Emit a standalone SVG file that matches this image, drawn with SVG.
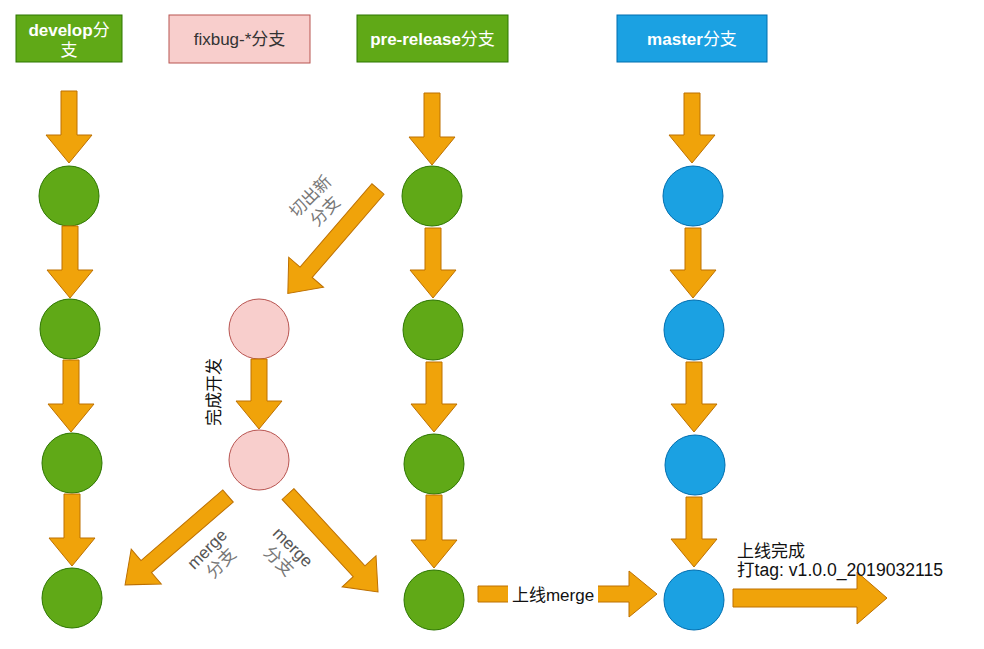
<svg xmlns="http://www.w3.org/2000/svg" width="984" height="649" viewBox="0 0 984 649">
<style>
text{font-family:"Liberation Sans","Noto Sans CJK SC",sans-serif;font-size:17px}
.hd{font-weight:bold;fill:#fff;text-anchor:middle}
.cj{font-weight:normal}
.green{fill:#60a917;stroke:#2d7600;stroke-width:1}
.pink{fill:#f8cecc;stroke:#b85450;stroke-width:1}
.blue{fill:#1ba1e2;stroke:#006eaf;stroke-width:1}
.arr{fill:#f0a30a;stroke:#bd7000;stroke-width:1;stroke-linejoin:miter}
.gl{fill:#777;text-anchor:middle}
.gm{fill:#555;text-anchor:middle}
.lbl{fill:#111}
</style>
<rect width="984" height="649" fill="#fff"/>
<g id="develop-header"><rect class="green" x="16" y="15" width="106" height="47"/><text class="hd" x="69" y="36">develop<tspan class="cj">分</tspan></text><text class="hd" x="69" y="56"><tspan class="cj">支</tspan></text></g>
<g id="fixbug-header"><rect class="pink" x="169" y="15" width="141" height="48"/><text x="239.5" y="45" fill="#333" text-anchor="middle">fixbug-*分支</text></g>
<g id="prerelease-header"><rect class="green" x="357" y="15" width="151" height="47"/><text class="hd" x="432.5" y="45">pre-release<tspan class="cj">分支</tspan></text></g>
<g id="master-header"><rect class="blue" x="617" y="15" width="150" height="47"/><text class="hd" x="692" y="45">master<tspan class="cj">分支</tspan></text></g>
<g id="develop-commits">
<circle class="green" cx="69" cy="196" r="30"/>
<circle class="green" cx="70" cy="329" r="30"/>
<circle class="green" cx="72" cy="463" r="30"/>
<circle class="green" cx="72" cy="598" r="30"/>
</g>
<g id="fixbug-commits">
<circle class="pink" cx="259" cy="329" r="30"/>
<circle class="pink" cx="259" cy="460" r="30"/>
</g>
<g id="prerelease-commits">
<circle class="green" cx="432" cy="196" r="30"/>
<circle class="green" cx="433" cy="330" r="30"/>
<circle class="green" cx="434" cy="464" r="30"/>
<circle class="green" cx="434" cy="600" r="30"/>
</g>
<g id="master-commits">
<circle class="blue" cx="693" cy="196" r="30"/>
<circle class="blue" cx="694" cy="330" r="30"/>
<circle class="blue" cx="695" cy="465" r="30"/>
<circle class="blue" cx="694" cy="600" r="30"/>
</g>
<g id="connectors">
<path class="arr" transform="translate(69,91) rotate(90)" d="M0,-8H44V-23L72,0L44,23V8H0Z"/>
<path class="arr" transform="translate(70,226) rotate(90)" d="M0,-8H44V-23L72,0L44,23V8H0Z"/>
<path class="arr" transform="translate(71,360) rotate(90)" d="M0,-8H44V-23L72,0L44,23V8H0Z"/>
<path class="arr" transform="translate(72,494) rotate(90)" d="M0,-8H44V-23L72,0L44,23V8H0Z"/>
<path class="arr" transform="translate(432,93) rotate(90)" d="M0,-8H44V-23L72,0L44,23V8H0Z"/>
<path class="arr" transform="translate(433,228) rotate(90)" d="M0,-8H42V-23L70,0L42,23V8H0Z"/>
<path class="arr" transform="translate(434,362) rotate(90)" d="M0,-8H42V-23L70,0L42,23V8H0Z"/>
<path class="arr" transform="translate(434,495) rotate(90)" d="M0,-8H45V-23L73,0L45,23V8H0Z"/>
<path class="arr" transform="translate(692,93) rotate(90)" d="M0,-8H42V-23L70,0L42,23V8H0Z"/>
<path class="arr" transform="translate(693,228) rotate(90)" d="M0,-8H42V-23L70,0L42,23V8H0Z"/>
<path class="arr" transform="translate(694,362) rotate(90)" d="M0,-8H42V-23L70,0L42,23V8H0Z"/>
<path class="arr" transform="translate(694,497) rotate(90)" d="M0,-8H42V-23L70,0L42,23V8H0Z"/>
<path class="arr" transform="translate(259,359) rotate(90)" d="M0,-8H42V-23L70,0L42,23V8H0Z"/>
<path class="arr" transform="translate(378,189) rotate(130.8)" d="M0,-8H110V-23L138,0L110,23V8H0Z"/>
<path class="arr" transform="translate(228,496) rotate(139.2)" d="M0,-8H108V-23L136,0L108,23V8H0Z"/>
<path class="arr" transform="translate(288,494) rotate(47.4)" d="M0,-8H105V-23L133,0L105,23V8H0Z"/>
<path class="arr" transform="translate(478,594)" d="M0,-8H151V-23L179,0L151,23V8H0Z"/>
<path class="arr" transform="translate(733,598)" d="M0,-9H124V-26L154,0L124,26V9H0Z"/>
<rect x="508" y="585" width="90" height="20" fill="#fff"/>
<text class="lbl" x="553" y="601" text-anchor="middle">上线merge</text>
</g>
<g id="labels">
<g transform="translate(318,204) rotate(-45)"><text class="gl" x="0" y="-5">切出新</text><text class="gl" x="0" y="16">分支</text></g>
<text class="lbl" transform="translate(214,392) rotate(-90)" x="0" y="6" text-anchor="middle">完成开发</text>
<g transform="translate(214,556) rotate(-45)"><text class="gm" x="0" y="-4">merge</text><text class="gl" x="0" y="16">分支</text></g>
<g transform="translate(286,554) rotate(45)"><text class="gm" x="0" y="-4">merge</text><text class="gl" x="0" y="16">分支</text></g>
<text class="lbl" x="737" y="557">上线完成</text>
<text class="lbl" x="737" y="576" style="font-size:17.6px">打tag: v1.0.0_2019032115</text>
</g>
</svg>
